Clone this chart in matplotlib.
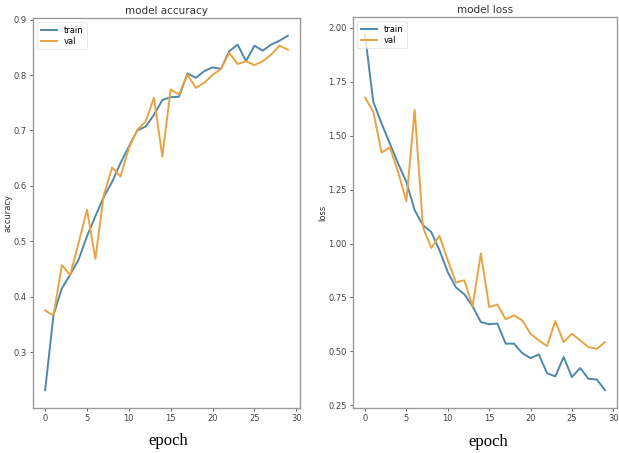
import matplotlib
matplotlib.use("Agg")
import matplotlib.pyplot as plt

epochs = list(range(30))

train_acc = [0.231, 0.367, 0.415, 0.440, 0.467, 0.509, 0.545, 0.580, 0.607, 0.641,
             0.671, 0.700, 0.707, 0.728, 0.755, 0.760, 0.761, 0.803, 0.795, 0.807,
             0.814, 0.811, 0.843, 0.855, 0.825, 0.853, 0.844, 0.855, 0.862, 0.871]
val_acc = [0.375, 0.366, 0.457, 0.439, 0.497, 0.557, 0.468, 0.583, 0.633, 0.617,
           0.668, 0.701, 0.716, 0.759, 0.653, 0.774, 0.765, 0.801, 0.777, 0.786,
           0.800, 0.811, 0.840, 0.820, 0.825, 0.818, 0.825, 0.837, 0.853, 0.846]

train_loss = [1.968, 1.658, 1.557, 1.464, 1.371, 1.286, 1.155, 1.085, 1.054, 0.969,
              0.868, 0.796, 0.765, 0.709, 0.636, 0.626, 0.629, 0.536, 0.536, 0.492,
              0.469, 0.486, 0.399, 0.384, 0.474, 0.381, 0.423, 0.373, 0.370, 0.320]
val_loss = [1.677, 1.612, 1.422, 1.446, 1.332, 1.196, 1.620, 1.077, 0.980, 1.036,
            0.923, 0.819, 0.830, 0.709, 0.954, 0.706, 0.717, 0.649, 0.667, 0.644,
            0.582, 0.551, 0.525, 0.641, 0.543, 0.582, 0.551, 0.520, 0.512, 0.543]

series_labels = ["train", "val"]
titles = ["model accuracy", "model loss"]
ylabels = ["accuracy", "loss"]
xlabel_text = "epoch"

C_TRAIN = "#4f88ad"
C_VAL = "#e6a443"
GREY = "#9a9a9a"

fig = plt.figure(figsize=(6.19, 4.53), dpi=100)
W, H = 619, 453

def box(x0, y0, x1, y1):
    return [x0 / W, 1 - y1 / H, (x1 - x0) / W, (y1 - y0) / H]

ax1 = fig.add_axes(box(33, 18, 300, 408))
ax2 = fig.add_axes(box(353, 17, 617, 408))

for ax, tr, va, title, yl in [(ax1, train_acc, val_acc, titles[0], ylabels[0]),
                              (ax2, train_loss, val_loss, titles[1], ylabels[1])]:
    ax.plot(epochs, tr, color=C_TRAIN, lw=1.4, label=series_labels[0])
    ax.plot(epochs, va, color=C_VAL, lw=1.4, label=series_labels[1])
    ax.set_title(title, fontsize=7.5, color="#333333", pad=3)
    ax.set_ylabel(yl, fontsize=6, color="#333333", labelpad=1)
    ax.tick_params(labelsize=6, colors="#444444", length=2.5, width=0.6, pad=2)
    for sp in ax.spines.values():
        sp.set_color(GREY)
        sp.set_linewidth(1.0)
    ax.set_xticks([0, 5, 10, 15, 20, 25, 30])
    leg = ax.legend(loc="upper left", fontsize=6, frameon=True, handlelength=2.0,
                    borderpad=0.4, labelspacing=0.3, fancybox=True)
    leg.get_frame().set_edgecolor("#dddddd")
    leg.get_frame().set_linewidth(0.6)

ax1.set_yticks([0.3, 0.4, 0.5, 0.6, 0.7, 0.8, 0.9])
ax2.set_yticks([0.25, 0.50, 0.75, 1.00, 1.25, 1.50, 1.75, 2.00])
ax2.set_yticklabels(["0.25", "0.50", "0.75", "1.00", "1.25", "1.50", "1.75", "2.00"])

fig.text(168 / W, 1 - 441 / H, xlabel_text, family="Liberation Serif", fontsize=12,
         ha="center", va="center", color="black")
fig.text(488 / W, 1 - 442 / H, xlabel_text, family="Liberation Serif", fontsize=12,
         ha="center", va="center", color="black")

fig.savefig("out.png", dpi=100)
